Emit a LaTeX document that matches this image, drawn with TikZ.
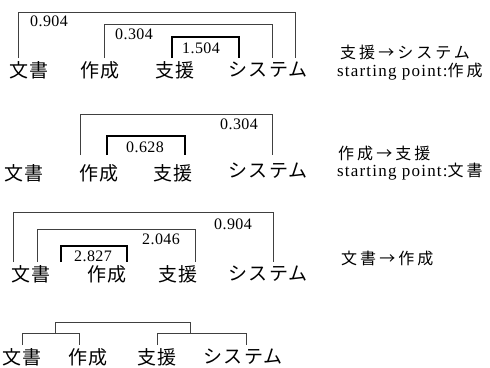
\documentclass[tikz,border=0pt]{standalone}
\usepackage{fontspec}
\setmainfont{Liberation Serif}
\newfontfamily\jp{Noto Sans CJK JP}[LetterSpace=8]
\newfontfamily\jpl{Noto Sans CJK JP}[LetterSpace=19]
\newfontfamily\num{Liberation Serif}[LetterSpace=3]
\newfontfamily\lat{Liberation Serif}[LetterSpace=7]
\begin{document}
\begin{tikzpicture}[x=1pt,y=-1pt,
  word/.style={inner sep=0,font=\fontsize{19}{19}\jp},
  lbl/.style={inner sep=0,font=\fontsize{16}{16}\num},
  note/.style={inner sep=0,anchor=west,font=\fontsize{16}{16}\jpl},
  brk/.style={line width=0.7pt,draw=black!75},
  bbrk/.style={line width=1.5pt,draw=black},
]
\useasboundingbox (0,0) rectangle (490,367);
% ---------- Row 1 ----------
\node[word] (a1) at (29,70) {文書};
\node[word] (b1) at (100,70) {作成};
\node[word] (c1) at (175,70) {支援};
\node[word] (d1) at (268,70) {システム};
\draw[brk] (18,58) |- (295,12) -- (295,58);
\draw[brk] (104,58) |- (272,24) -- (272,58);
\draw[bbrk] (172,58) |- (239,37) -- (239,58);
\node[lbl] (l11) at (49,21) {0.904};
\node[lbl] (l12) at (134,34) {0.304};
\node[lbl] (l13) at (201,48) {1.504};
\node[note] (n11) at (340,52) {支援→システム};
\node[note] (n12) at (337,72) {\fontsize{17}{17}\lat starting point:\fontsize{16}{16}\jpl 作成};
% ---------- Row 2 ----------
\node[word] (a2) at (24,173) {文書};
\node[word] (b2) at (99,173) {作成};
\node[word] (c2) at (173,173) {支援};
\node[word] (d2) at (268,171) {システム};
\draw[brk] (80,155) |- (272,114) -- (272,155);
\draw[bbrk] (107,155) |- (185,136) -- (185,155);
\node[lbl] (l21) at (239,124) {0.304};
\node[lbl] (l22) at (145,147) {0.628};
\node[note] (n21) at (338,153) {作成→支援};
\node[note] (n22) at (337,172) {\fontsize{17}{17}\lat starting point:\fontsize{16}{16}\jpl 文書};
% ---------- Row 3 ----------
\node[word] (a3) at (31,274) {文書};
\node[word] (b3) at (107,274) {作成};
\node[word] (c3) at (178,274) {支援};
\node[word] (d3) at (268,274) {システム};
\draw[brk] (13,262) |- (273,212) -- (273,262);
\draw[brk] (37,262) |- (195,229) -- (195,262);
\draw[bbrk] (61,262) |- (127,246) -- (127,262);
\node[lbl] (l31) at (233,224) {0.904};
\node[lbl] (l32) at (161,239) {2.046};
\node[lbl] (l33) at (93,256) {2.827};
\node[note] (n31) at (341,258) {文書→作成};
% ---------- Row 4 ----------
\node[word] (a4) at (22,357) {文書};
\node[word] (b4) at (88,357) {作成};
\node[word] (c4) at (157,357) {支援};
\node[word] (d4) at (243,357) {システム};
\draw[brk] (55,333) |- (190,322) -- (190,333);
\draw[brk] (22,345) |- (79,333) -- (79,345);
\draw[brk] (157,345) |- (246,333) -- (246,345);
\end{tikzpicture}
\end{document}
